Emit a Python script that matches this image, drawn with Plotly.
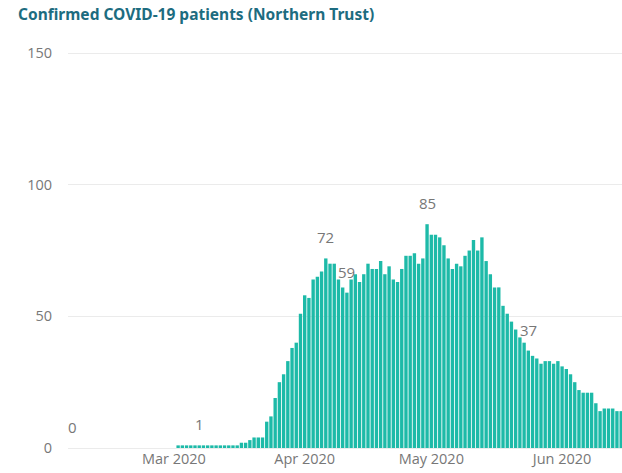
import pandas as pd
import plotly.graph_objects as go

# ---- data ----
start_date = "2020-02-06"
patients = (
    [0] * 25 +                      # Feb 6 - Mar 1
    [1] * 15 +                      # Mar 2 - Mar 16
    [2, 2, 3, 4, 4, 4, 10, 12, 19, 25, 28, 33, 38, 40, 51,
     58, 57, 64, 65, 67, 72, 70, 70, 64, 61, 59, 64, 66, 63, 66,
     70, 68, 68, 71, 66, 69, 64, 63, 68, 73, 73, 74, 70, 72, 85,
     81, 81, 80, 77, 72, 68, 70, 69, 73, 75, 79, 75, 80, 71, 66,
     61, 61, 54, 51, 48, 45, 42, 40, 37, 35, 34, 32, 33, 33, 32,
     33, 31, 30, 28, 25, 22, 21, 21, 21, 17, 14, 15, 15, 15, 14, 14]
)
dates = pd.date_range(start_date, periods=len(patients), freq="D")

label_dates = ["2020-02-06", "2020-03-07", "2020-04-06", "2020-04-11", "2020-04-30", "2020-05-24"]
y_ticks = [0, 50, 100, 150]

title_text = "Confirmed COVID-19 patients (Northern Trust)"

FONT = "Open Sans, Noto Sans, sans-serif"

# ---- figure ----
fig = go.Figure()
fig.add_trace(go.Bar(
    x=dates, y=patients,
    marker=dict(color="#1DBAA8", line=dict(width=0)),
    hoverinfo="x+y",
))

value_by_date = dict(zip(dates.strftime("%Y-%m-%d"), patients))
for d in label_dates:
    v = value_by_date[d]
    fig.add_annotation(
        x=d, y=v, text=str(v), showarrow=False,
        yanchor="bottom", yshift=9,
        font=dict(family=FONT, size=15, color="#777777"),
    )

fig.update_layout(
    width=622, height=473,
    margin=dict(l=68, r=0, t=52, b=25),
    paper_bgcolor="white", plot_bgcolor="white",
    bargap=0.2,
    showlegend=False,
    font=dict(family=FONT, size=14, color="#777777"),
    title=dict(
        text="<b>" + title_text + "</b>",
        x=18 / 622, xref="container", xanchor="left",
        y=1, yref="container", yanchor="top",
        pad=dict(t=9),
        font=dict(family="Noto Sans, Open Sans, sans-serif", size=15.5, color="#1D6C80"),
    ),
)

fig.update_xaxes(
    type="date",
    range=["2020-02-04 21:36", "2020-06-15 04:48"],
    dtick="M1", tick0="2020-03-01", tickformat="%b %Y",
    showgrid=False, zeroline=False, showline=False, ticks="",
    tickfont=dict(family=FONT, size=14.5, color="#777777"),
    fixedrange=True,
)
fig.update_yaxes(
    range=[0, 150.4],
    tickvals=y_ticks,
    showgrid=True, gridcolor="#EBEBEB", gridwidth=1,
    zeroline=True, zerolinecolor="#EBEBEB", zerolinewidth=1,
    showline=False, ticks="",
    ticklabelstandoff=15,
    tickfont=dict(family=FONT, size=14.5, color="#777777"),
    fixedrange=True,
)

fig.write_html(
    "out.html",
    config={"displayModeBar": False},
    post_script="document.body.style.margin='0';document.body.style.padding='0';",
)
